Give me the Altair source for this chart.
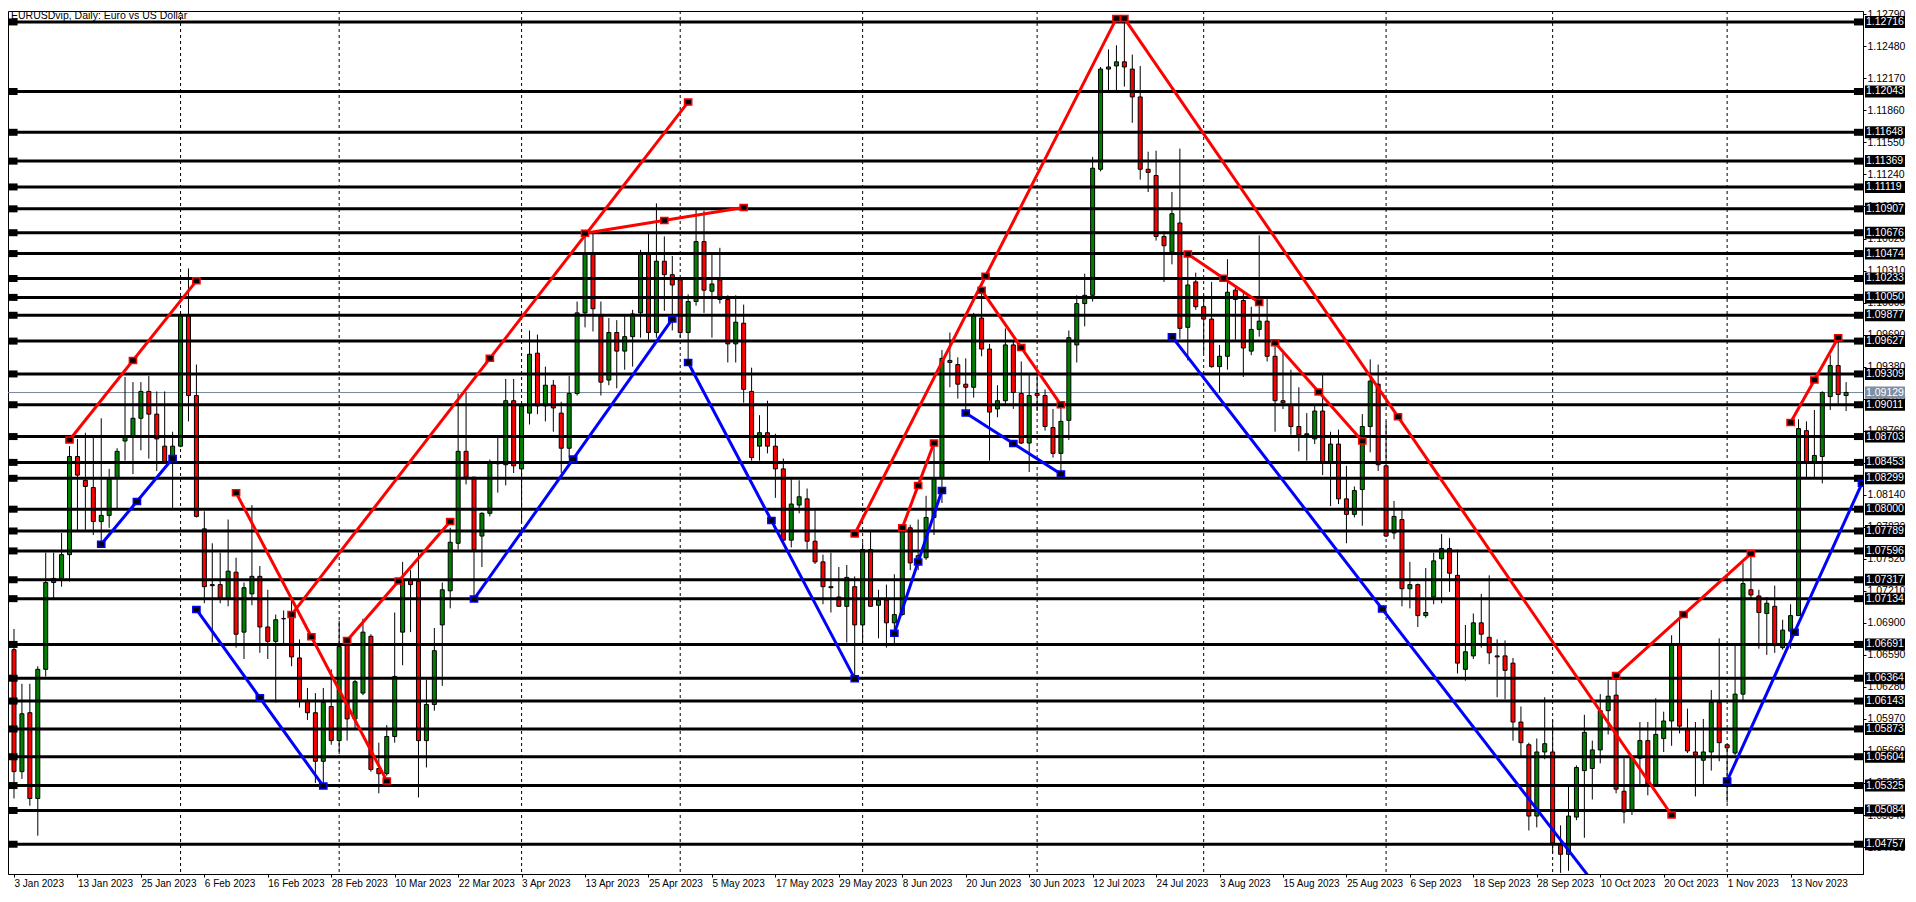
import json
import altair as alt
import pandas as pd

# ---------------- data ----------------
opens = [1.0664,1.0546,1.0603,1.0520,1.0645,1.0729,1.0733,1.0756,1.0851,1.0828,
1.0821,1.0788,1.0794,1.0830,1.0866,1.0870,1.0888,1.0914,1.0892,1.0861,
1.0848,1.0861,1.0988,1.0910,1.0781,1.0727,1.0727,1.0714,1.0739,1.0681,
1.0718,1.0735,1.0686,1.0672,1.0694,1.0696,1.0656,1.0615,1.0603,1.0556,
1.0609,1.0576,1.0672,1.0597,1.0622,1.0677,1.0549,1.0544,1.0580,1.0681,
1.0731,1.0730,1.0576,1.0611,1.0688,1.0721,1.0767,1.0856,1.0831,1.0774,
1.0796,1.0845,1.0843,1.0905,1.0839,1.0893,1.0951,1.0900,1.0920,1.0893,
1.0859,1.0912,1.0990,1.1047,1.0987,1.0925,1.0971,1.0953,1.0967,1.0990,
1.1047,1.0971,1.1040,1.1027,1.1022,1.0971,1.1001,1.1059,1.1011,1.1022,
1.1003,1.0960,1.0980,1.0914,1.0861,1.0874,1.0861,1.0839,1.0770,1.0804,
1.0810,1.0769,1.0749,1.0725,1.0715,1.0706,1.0725,1.0688,1.0761,1.0707,
1.0712,1.0690,1.0698,1.0782,1.0749,1.0753,1.0792,1.0830,1.0944,1.0940,
1.0921,1.0918,1.0985,1.0955,1.0897,1.0905,1.0959,1.0912,1.0864,1.0912,
1.0910,1.0879,1.0854,1.0886,1.0959,1.0999,1.1007,1.1129,1.1226,1.1229,
1.1233,1.1226,1.1199,1.1129,1.1123,1.1064,1.1049,1.1077,1.0976,1.1020,
1.0996,1.0984,1.0938,1.0948,1.1012,1.1002,1.0953,1.0974,1.0982,1.0948,
1.0905,1.0901,1.0880,1.0872,1.0868,1.0895,1.0846,1.0863,1.0810,1.0795,
1.0819,1.0880,1.0921,1.0842,1.0777,1.0790,1.0723,1.0727,1.0697,1.0715,
1.0752,1.0762,1.0736,1.0645,1.0658,1.0690,1.0676,1.0658,1.0658,1.0651,
1.0594,1.0572,1.0503,1.0565,1.0565,1.0476,1.0466,1.0502,1.0547,1.0549,
1.0567,1.0605,1.0620,1.0527,1.0508,1.0559,1.0576,1.0532,1.0578,1.0595,
1.0669,1.0587,1.0565,1.0557,1.0565,1.0613,1.0572,1.0564,1.0621,1.0722,
1.0716,1.0699,1.0706,1.0666,1.0682,1.0697,1.0876,1.0846,1.0851,1.0909,
1.0939,1.0910]
highs = [1.0684,1.0631,1.0631,1.0648,1.0758,1.0758,1.0777,1.0861,1.0868,1.0874,
1.0871,1.0888,1.0839,1.0859,1.0928,1.0923,1.0923,1.0929,1.0914,1.0914,
1.0875,1.0990,1.1033,1.0940,1.0798,1.0767,1.0758,1.0790,1.0753,1.0729,
1.0804,1.0745,1.0722,1.0698,1.0702,1.0714,1.0674,1.0627,1.0622,1.0627,
1.0645,1.0692,1.0674,1.0635,1.0694,1.0679,1.0574,1.0591,1.0700,1.0749,
1.0741,1.0758,1.0635,1.0685,1.0729,1.0782,1.0912,1.0913,1.0831,1.0797,
1.0848,1.0869,1.0926,1.0926,1.0901,1.0973,1.0969,1.0938,1.0925,1.0904,
1.0929,1.1001,1.1067,1.1067,1.1001,1.0985,1.0983,1.0989,1.0993,1.1051,
1.1067,1.1096,1.1064,1.1045,1.1022,1.1008,1.1090,1.1089,1.1046,1.1053,
1.1007,1.1007,1.0998,1.0937,1.0891,1.0905,1.0873,1.0849,1.0829,1.0828,
1.0820,1.0799,1.0756,1.0758,1.0744,1.0746,1.0735,1.0768,1.0778,1.0722,
1.0727,1.0737,1.0785,1.0785,1.0790,1.0813,1.0862,1.0954,1.0971,1.0947,
1.0946,1.0990,1.1012,1.0960,1.0920,1.0975,1.0962,1.0943,1.0930,1.0930,
1.0916,1.0897,1.0904,1.0973,1.1007,1.1028,1.1141,1.1228,1.1245,1.1249,
1.1276,1.1240,1.1229,1.1146,1.1147,1.1069,1.1107,1.1149,1.1049,1.1029,
1.1007,1.1020,1.0959,1.1042,1.1016,1.1010,1.0996,1.1065,1.1005,1.0958,
1.0952,1.0935,1.0918,1.0893,1.0901,1.0930,1.0875,1.0877,1.0842,1.0822,
1.0892,1.0945,1.0940,1.0885,1.0808,1.0799,1.0749,1.0728,1.0743,1.0758,
1.0776,1.0772,1.0761,1.0688,1.0699,1.0718,1.0736,1.0674,1.0673,1.0656,
1.0609,1.0574,1.0578,1.0618,1.0596,1.0494,1.0532,1.0552,1.0601,1.0576,
1.0621,1.0635,1.0640,1.0559,1.0561,1.0594,1.0594,1.0617,1.0604,1.0678,
1.0694,1.0607,1.0594,1.0597,1.0625,1.0675,1.0572,1.0669,1.0748,1.0756,
1.0722,1.0715,1.0726,1.0693,1.0708,1.0887,1.0885,1.0896,1.0914,1.0949,
1.0965,1.0923]
lows = [1.0520,1.0539,1.0513,1.0484,1.0638,1.0712,1.0725,1.0730,1.0780,1.0780,
1.0775,1.0768,1.0782,1.0800,1.0847,1.0834,1.0857,1.0849,1.0837,1.0845,
1.0801,1.0860,1.0885,1.0792,1.0709,1.0671,1.0709,1.0706,1.0666,1.0655,
1.0707,1.0661,1.0655,1.0613,1.0670,1.0648,1.0608,1.0596,1.0535,1.0533,
1.0572,1.0563,1.0576,1.0587,1.0620,1.0546,1.0525,1.0542,1.0574,1.0649,
1.0681,1.0521,1.0550,1.0605,1.0629,1.0704,1.0761,1.0824,1.0713,1.0744,
1.0793,1.0816,1.0823,1.0835,1.0787,1.0882,1.0892,1.0885,1.0875,1.0835,
1.0850,1.0910,1.0976,1.0972,1.0910,1.0920,1.0917,1.0935,1.0938,1.0966,
1.0964,1.0966,1.0992,1.0973,1.0966,1.0942,1.0997,1.0990,1.0966,1.0999,
1.0942,1.0942,1.0903,1.0847,1.0847,1.0854,1.0811,1.0766,1.0763,1.0796,
1.0761,1.0747,1.0708,1.0700,1.0706,1.0671,1.0635,1.0670,1.0706,1.0675,
1.0666,1.0668,1.0697,1.0741,1.0741,1.0751,1.0775,1.0806,1.0918,1.0907,
1.0894,1.0908,1.0948,1.0847,1.0889,1.0902,1.0897,1.0863,1.0836,1.0895,
1.0876,1.0850,1.0834,1.0867,1.0942,1.0977,1.1001,1.1127,1.1205,1.1205,
1.1209,1.1174,1.1119,1.1107,1.1060,1.1020,1.1037,1.0965,1.0944,1.0993,
1.0951,1.0937,1.0913,1.0935,1.0964,1.0928,1.0949,1.0967,1.0943,1.0875,
1.0897,1.0872,1.0856,1.0847,1.0863,1.0833,1.0803,1.0805,1.0767,1.0792,
1.0784,1.0855,1.0837,1.0773,1.0771,1.0706,1.0704,1.0686,1.0695,1.0708,
1.0709,1.0720,1.0641,1.0634,1.0655,1.0666,1.0650,1.0618,1.0616,1.0576,
1.0561,1.0489,1.0492,1.0558,1.0467,1.0448,1.0450,1.0499,1.0482,1.0519,
1.0554,1.0582,1.0525,1.0496,1.0504,1.0533,1.0523,1.0531,1.0565,1.0571,
1.0583,1.0564,1.0522,1.0534,1.0547,1.0556,1.0516,1.0562,1.0615,1.0714,
1.0665,1.0659,1.0661,1.0664,1.0665,1.0697,1.0831,1.0831,1.0825,1.0896,
1.0902,1.0895]
closes = [1.0546,1.0602,1.0520,1.0645,1.0729,1.0733,1.0756,1.0851,1.0833,1.0822,
1.0788,1.0794,1.0829,1.0856,1.0870,1.0888,1.0914,1.0892,1.0868,1.0846,
1.0861,1.0988,1.0910,1.0793,1.0725,1.0726,1.0714,1.0740,1.0679,1.0724,
1.0735,1.0686,1.0672,1.0693,1.0694,1.0657,1.0615,1.0603,1.0556,1.0613,
1.0576,1.0667,1.0597,1.0633,1.0681,1.0548,1.0544,1.0580,1.0638,1.0731,
1.0727,1.0576,1.0611,1.0663,1.0722,1.0768,1.0856,1.0831,1.0761,1.0796,
1.0845,1.0844,1.0905,1.0842,1.0900,1.0950,1.0900,1.0920,1.0898,1.0859,
1.0912,1.0990,1.1047,1.0994,1.0923,1.0971,1.0953,1.0967,1.0989,1.1047,
1.0971,1.1040,1.1027,1.1017,1.0971,1.1001,1.1059,1.1012,1.1018,1.1003,
1.0960,1.0981,1.0916,1.0850,1.0874,1.0861,1.0839,1.0770,1.0805,1.0812,
1.0769,1.0749,1.0725,1.0724,1.0706,1.0734,1.0688,1.0761,1.0706,1.0712,
1.0690,1.0698,1.0782,1.0748,1.0755,1.0792,1.0830,1.0946,1.0942,1.0921,
1.0918,1.0987,1.0955,1.0894,1.0905,1.0959,1.0913,1.0864,1.0910,1.0910,
1.0880,1.0854,1.0885,1.0966,1.0999,1.1007,1.1130,1.1226,1.1228,1.1233,
1.1228,1.1199,1.1129,1.1126,1.1064,1.1055,1.1086,1.0975,1.1017,1.0996,
1.0984,1.0938,1.0948,1.1010,1.1003,1.0956,1.0974,1.0982,1.0948,1.0905,
1.0903,1.0880,1.0872,1.0873,1.0895,1.0846,1.0863,1.0810,1.0795,1.0818,
1.0880,1.0924,1.0843,1.0774,1.0793,1.0723,1.0727,1.0697,1.0700,1.0750,
1.0762,1.0738,1.0651,1.0662,1.0690,1.0679,1.0661,1.0657,1.0644,1.0594,
1.0574,1.0503,1.0565,1.0573,1.0477,1.0466,1.0503,1.0550,1.0584,1.0567,
1.0605,1.0619,1.0529,1.0507,1.0559,1.0576,1.0534,1.0582,1.0595,1.0669,
1.0590,1.0566,1.0562,1.0565,1.0613,1.0574,1.0569,1.0621,1.0728,1.0717,
1.0700,1.0709,1.0668,1.0683,1.0697,1.0878,1.0846,1.0852,1.0913,1.0939,
1.0911,1.0913]

levels = [1.12716, 1.12043, 1.11648, 1.11369, 1.11119, 1.10907, 1.10676, 1.10474,
          1.10233, 1.10050, 1.09877, 1.09627, 1.09309, 1.09011, 1.08703, 1.08453,
          1.08299, 1.08000, 1.07789, 1.07596, 1.07317, 1.07134, 1.06691, 1.06364,
          1.06143, 1.05873, 1.05604, 1.05325, 1.05084, 1.04757]

price_ticks = [1.12790, 1.12480, 1.12170, 1.11860, 1.11550, 1.11240, 1.10930, 1.10620,
               1.10310, 1.10000, 1.09690, 1.09380, 1.09070, 1.08760, 1.08450, 1.08140,
               1.07830, 1.07520, 1.07210, 1.06900, 1.06590, 1.06280, 1.05970, 1.05660,
               1.05350, 1.05040, 1.04730]

current_price = 1.09129

month_starts = [21, 41, 64, 84, 107, 129, 150, 173, 194, 216]

xlabel_idx = [0, 8, 16, 24, 32, 40, 48, 56, 64, 72, 80, 88, 96, 104, 112, 120, 128,
              136, 144, 152, 160, 168, 176, 184, 192, 200, 208, 216, 224]
xlabels = ["3 Jan 2023", "13 Jan 2023", "25 Jan 2023", "6 Feb 2023", "16 Feb 2023",
           "28 Feb 2023", "10 Mar 2023", "22 Mar 2023", "3 Apr 2023", "13 Apr 2023",
           "25 Apr 2023", "5 May 2023", "17 May 2023", "29 May 2023", "8 Jun 2023",
           "20 Jun 2023", "30 Jun 2023", "12 Jul 2023", "24 Jul 2023", "3 Aug 2023",
           "15 Aug 2023", "25 Aug 2023", "6 Sep 2023", "18 Sep 2023", "28 Sep 2023",
           "10 Oct 2023", "20 Oct 2023", "1 Nov 2023", "13 Nov 2023"]

# trend lines: colour, start bar, start price, end bar, end price
tl_color = ["red", "blue", "red", "blue", "red", "red", "blue", "red", "blue", "red",
            "red", "red", "blue", "red", "blue", "red", "red", "blue", "red", "red", "blue"]
tl_i1 = [7, 11, 28, 23, 35, 42, 58, 72, 85, 106, 140, 112, 111, 122, 120, 148, 159, 146, 202, 224, 216]
tl_p1 = [1.0867, 1.0766, 1.0816, 1.0703, 1.0698, 1.0673, 1.0713, 1.1067, 1.0942, 1.0776,
         1.1275, 1.0782, 1.0680, 1.1012, 1.0893, 1.1047, 1.0961, 1.0967, 1.0639, 1.0884, 1.0537]
tl_i2 = [23, 20, 47, 39, 85, 55, 83, 92, 106, 139, 209, 116, 117, 132, 132, 157, 170, 199, 219, 230, 233]
tl_p2 = [1.1021, 1.0849, 1.0537, 1.0532, 1.1194, 1.0788, 1.0984, 1.1092, 1.0636, 1.1275,
         1.0504, 1.0864, 1.0818, 1.0901, 1.0834, 1.1000, 1.0866, 1.0440, 1.0757, 1.0966, 1.0825]

title_text = "EURUSDvip, Daily:  Euro vs US Dollar"

# ---------------- layout ----------------
W, H = 1855, 863
XDOM = [-0.125, 232.5]
YDOM = [1.04469, 1.12822]
COLMAP = {"red": "#FF0000", "blue": "#0000FF"}
FONT = "Liberation Sans"

n = len(opens)
candles = pd.DataFrame({"idx": list(range(n)), "o": opens, "h": highs, "l": lows, "c": closes})
candles["fill"] = ["#008000" if c > o else ("#FF0000" if c < o else "#000000")
                   for o, c in zip(opens, closes)]

lv = pd.DataFrame({"level": levels})
lv["txt"] = [f"{v:.5f}" for v in levels]

rows, handles = [], []
for k, (col, i1, p1, i2, p2) in enumerate(zip(tl_color, tl_i1, tl_p1, tl_i2, tl_p2)):
    c = COLMAP[col]
    rows += [{"line": k, "idx": i1, "price": p1, "col": c, "ord": 0},
             {"line": k, "idx": i2, "price": p2, "col": c, "ord": 1}]
    for ii, pp in [(i1, p1), ((i1 + i2) / 2, (p1 + p2) / 2), (i2, p2)]:
        handles.append({"idx": ii, "price": pp, "col": c})
tl = pd.DataFrame(rows)
hd = pd.DataFrame(handles)

xscale = alt.Scale(domain=XDOM, nice=False, zero=False)
yscale = alt.Scale(domain=YDOM, nice=False, zero=False)

label_expr = ("[" + ",".join(f"'{s}'" for s in xlabels) + "][indexof(" +
              json.dumps(xlabel_idx) + ", datum.value)]")
xax = alt.Axis(values=xlabel_idx, labelExpr=label_expr, labelAlign="left", labelPadding=1,
               labelBaseline="top", tickSize=3, tickColor="black", domainColor="black",
               labelColor="black", labelFontSize=10, labelFont=FONT, grid=False, title=None,
               labelOverlap=False, labelBound=False, labelFlush=False)
yax = alt.Axis(orient="right", values=price_ticks, format=".5f", labelAlign="left",
               labelBaseline="middle", labelPadding=1, tickSize=3, tickColor="black",
               domainColor="black", labelColor="black", labelFontSize=10.5, labelFont=FONT,
               grid=False, title=None, labelOverlap=False, labelBound=False, labelFlush=False)


def X(field):
    return alt.X(field, type="quantitative", scale=xscale, axis=xax)


def Y(field):
    return alt.Y(field, type="quantitative", scale=yscale, axis=yax)


ms = pd.DataFrame({"idx": month_starts})
vlines = alt.Chart(ms).mark_rule(color="black", strokeWidth=1, strokeDash=[3, 3]).encode(x=X("idx"))

cur = alt.Chart(pd.DataFrame({"p": [current_price]})).mark_rule(
    color="#778899", strokeWidth=1).encode(y=Y("p"))

wicks = alt.Chart(candles).mark_rule(color="black", strokeWidth=1).encode(
    x=X("idx"), y=Y("l"), y2="h")

bodies = alt.Chart(candles).mark_bar(size=4, stroke="black", strokeWidth=1).encode(
    x=X("idx"), y=Y("o"), y2="c", fill=alt.Fill("fill:N", scale=None))

hlines = alt.Chart(lv).mark_rule(color="black", strokeWidth=3).encode(y=Y("level"))

lsq = alt.Chart(lv).mark_point(shape="M-1.3,-1H1.3V1H-1.3Z", filled=True, fill="black",
                               size=49, opacity=1).encode(x=alt.value(5), y=Y("level"))
rsq = alt.Chart(lv).mark_point(shape="M-1.3,-1H1.3V1H-1.3Z", filled=True, fill="black",
                               size=49, opacity=1).encode(x=alt.value(W - 4.5), y=Y("level"))
rbox = alt.Chart(lv).mark_point(shape="M-1,-0.3H1V0.3H-1Z", filled=True, fill="black",
                                size=1600, opacity=1).encode(x=alt.value(W + 22), y=Y("level"))
rtxt = alt.Chart(lv).mark_text(align="left", baseline="middle", color="white",
                               fontSize=10.5, font=FONT).encode(
    x=alt.value(W + 3), y=Y("level"), text="txt:N")

curdf = pd.DataFrame({"p": [current_price], "txt": [f"{current_price:.5f}"]})
cbox = alt.Chart(curdf).mark_point(shape="M-1,-0.3H1V0.3H-1Z", filled=True, fill="#7F8FA3",
                                   size=1600, opacity=1).encode(x=alt.value(W + 22), y=Y("p"))
ctxt = alt.Chart(curdf).mark_text(align="left", baseline="middle", color="white",
                                  fontSize=10.5, font=FONT).encode(
    x=alt.value(W + 3), y=Y("p"), text="txt:N")

tlines = alt.Chart(tl).mark_line(strokeWidth=3, clip=True).encode(
    x=X("idx"), y=Y("price"), detail="line:N", order="ord:Q",
    color=alt.Color("col:N", scale=None))

thandles = alt.Chart(hd).mark_point(shape="M-1.2,-1H1.2V1H-1.2Z", filled=True, fill="black",
                                    size=36, strokeWidth=1.5, opacity=1, clip=True).encode(
    x=X("idx"), y=Y("price"), stroke=alt.Stroke("col:N", scale=None))

title = alt.Chart(pd.DataFrame({"t": [title_text]})).mark_text(
    align="left", baseline="middle", fontSize=10.5, font=FONT, color="black").encode(
    x=alt.value(3), y=alt.value(4.5), text="t:N")

chart = alt.layer(vlines, cur, wicks, bodies, hlines, lsq, rsq, rbox, rtxt, cbox, ctxt,
                  tlines, thandles, title).properties(
    width=W, height=H,
    autosize=alt.AutoSizeParams(type="none"),
    padding={"left": 0, "top": 3, "right": 44, "bottom": 17},
    background="white",
).configure_view(stroke="black", strokeWidth=1)

chart.save("out.html", embed_options={"renderer": "svg", "actions": False})
